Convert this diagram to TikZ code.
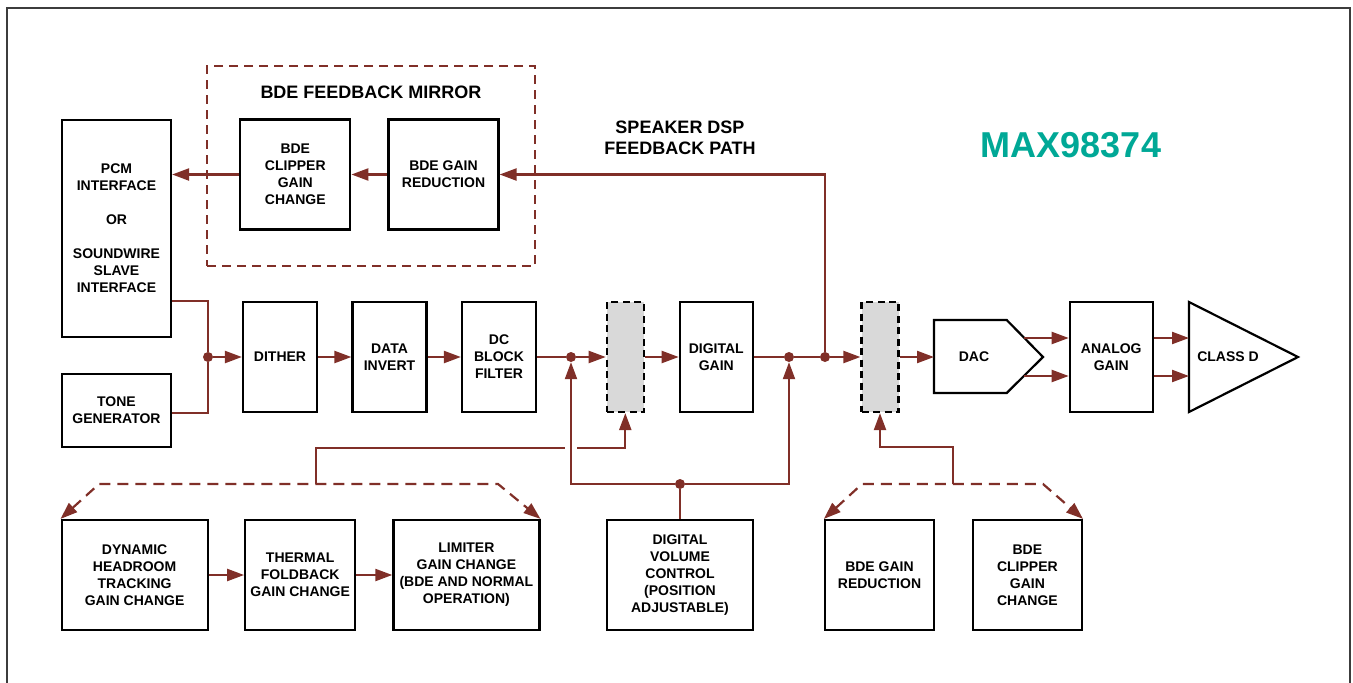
\documentclass[tikz,border=0pt]{standalone}
\usepackage{fontspec}
\setmainfont{Liberation Sans}
\usetikzlibrary{arrows.meta,positioning}
\definecolor{fbred}{RGB}{128,47,40}
\definecolor{maxteal}{RGB}{0,168,150}
\definecolor{rampgray}{RGB}{217,217,217}
\definecolor{framegray}{RGB}{60,60,60}
\begin{document}
\begin{tikzpicture}[x=1pt, y=-1pt, node distance=109.5pt,
    blk/.style={draw, line width=2.2pt, align=center, inner sep=0pt,
                minimum width=110pt, minimum height=110pt,
                font=\bfseries\fontsize{14}{17}\selectfont},
    narrowblk/.style={blk, minimum width=74pt},
    wideblk/.style={blk, minimum width=146pt},
    ramp/.style={draw, line width=2.2pt, dash pattern=on 7pt off 4.5pt, fill=rampgray,
                 minimum width=37pt, minimum height=110pt, inner sep=0pt},
    lbl/.style={align=center, font=\bfseries\fontsize{18}{21}\selectfont},
    txt/.style={align=center, font=\bfseries\fontsize{14}{17}\selectfont},
    wire/.style={draw=fbred, line width=2.2pt},
    arr/.style={wire, -{Triangle[length=17pt,width=12pt]}},
    dwire/.style={wire, dash pattern=on 11pt off 7pt,
                  {Triangle[length=17pt,width=12pt]}-{Triangle[length=17pt,width=12pt]}},
    jdot/.style={circle, fill=fbred, inner sep=0pt, minimum size=10pt}]
    \useasboundingbox (0,0) rectangle (1353,683);
    \draw[framegray, line width=1.5pt] (7,700) -- (7,8) -- (1350,8) -- (1350,700);

    % feedback mirror
    \node [draw=fbred, line width=2pt, dash pattern=on 9pt off 6pt,
           minimum width=328pt, minimum height=200pt] (mirror) at (371,166) {};
    \node [lbl]                             (mirrortitle) at (371,92) {BDE FEEDBACK MIRROR};
    \node [blk]                             (bdered)  at (443.5,174.5) {BDE GAIN\\REDUCTION};
    \node [blk, left=36pt of bdered]        (bdeclip) {BDE\\CLIPPER\\GAIN\\CHANGE};
    \node [lbl]                             (fbpath)  at (680,137.5) {SPEAKER DSP\\FEEDBACK PATH};
    \node [font=\bfseries\fontsize{36}{40}\selectfont, text=maxteal] (part) at (1071,145) {MAX98374};

    % inputs and main path
    \node [blk, minimum width=109pt, minimum height=217pt] (pcm) at (116.5,228.5)
          {PCM\\INTERFACE\\[17pt]OR\\[17pt]SOUNDWIRE\\SLAVE\\INTERFACE};
    \node [blk, minimum width=109pt, minimum height=73pt]  (tone) at (116.5,410.5) {TONE\\GENERATOR};
    \node [narrowblk]                       (dither)  at (280,357) {DITHER};
    \node [narrowblk, right of=dither]      (invert)  {DATA\\INVERT};
    \node [narrowblk, right of=invert]      (dcblock) {DC\\BLOCK\\FILTER};
    \node [ramp]                            (ramp1)   at (625.3,357) {};
    \node [narrowblk, minimum width=73pt]   (dgain)   at (716.3,357) {DIGITAL\\GAIN};
    \node [ramp]                            (ramp2)   at (880,357) {};
    \draw [line width=2.2pt] (934,320) -- (1006.7,320) -- (1043,357) -- (1006.7,393) -- (934,393) -- cycle;
    \node [txt]                             (dac)     at (974,357) {DAC};
    \node [blk, minimum width=83pt]         (again)   at (1111.3,357) {ANALOG\\GAIN};
    \draw [line width=2.2pt] (1189,302) -- (1298,357) -- (1189,412) -- cycle;
    \node [txt]                             (classd)  at (1228,357) {CLASS D};

    % bottom row
    \node [wideblk]                         (dht)     at (134.6,575) {DYNAMIC\\HEADROOM\\TRACKING\\GAIN CHANGE};
    \node [blk, right=35.4pt of dht]        (thermal) {THERMAL\\FOLDBACK\\GAIN CHANGE};
    \node [wideblk, right=36pt of thermal]  (limiter) {LIMITER\\GAIN CHANGE\\(BDE AND NORMAL\\OPERATION)};
    \node [wideblk]                         (vol)     at (680,575) {DIGITAL\\VOLUME\\CONTROL\\(POSITION\\ADJUSTABLE)};
    \node [blk, minimum width=109pt]        (bdered2) at (879.5,575) {BDE GAIN\\REDUCTION};
    \node [blk, minimum width=109pt, right=36.7pt of bdered2] (bdeclip2) {BDE\\CLIPPER\\GAIN\\CHANGE};

    % junctions and free ends
    \node [jdot] (jin) at (208,357) {};
    \node [jdot] (j1)  at (571,357) {};
    \node [jdot] (j2)  at (789,357) {};
    \node [jdot] (j3)  at (825,357) {};
    \node [jdot] (jv)  at (680,484) {};
    \coordinate (dacin) at (934,357);
    \coordinate (dacA)  at (1024,338);
    \coordinate (dacB)  at (1023.8,376);
    \coordinate (cdA)   at (1189,338);
    \coordinate (cdB)   at (1189,376);
    \coordinate (gc)    at (316,484);
    \coordinate (bt)    at (953,484);

    % connectors
    \draw [wire] (pcm.east |- dither.north) -| (jin);
    \draw [wire] (tone.east |- dither.south) -| (jin);
    \path (jin)     edge [arr]  (dither);
    \path (dither)  edge [arr]  (invert);
    \path (invert)  edge [arr]  (dcblock);
    \path (dcblock) edge [wire] (j1);
    \path (j1)      edge [arr]  (ramp1);
    \path (ramp1)   edge [arr]  (dgain);
    \path (dgain)   edge [wire] (j2);
    \path (j2)      edge [wire] (j3);
    \path (j3)      edge [arr]  (ramp2);
    \path (ramp2)   edge [arr]  (dacin);
    \path (dacA)    edge [arr]  (again.west |- dacA);
    \path (dacB)    edge [arr]  (again.west |- dacB);
    \path (again.east |- cdA) edge [arr] (cdA);
    \path (again.east |- cdB) edge [arr] (cdB);
    \draw [arr] (j3) |- (bdered);
    \path (bdered)  edge [arr]  (bdeclip);
    \path (bdeclip) edge [arr]  (pcm.east |- bdeclip.west);
    \path (dht)     edge [arr]  (thermal);
    \path (thermal) edge [arr]  (limiter);

    \draw [dwire] (dht.north west) -- (99,484) -- (498,484) -- (limiter.north east);
    \draw [arr] (gc) -- (316,448) -| (ramp1);
    \fill [white] (565,442) rectangle (577,454);
    \draw [wire] (vol) -- (jv);
    \draw [arr] (jv) -| (j1);
    \draw [arr] (jv) -| (j2);
    \draw [dwire] (bdered2.north west) -- (862,484) -- (1043,484) -- (bdeclip2.north east);
    \draw [arr] (bt) -- (953,447) -| (ramp2);
\end{tikzpicture}
\end{document}
